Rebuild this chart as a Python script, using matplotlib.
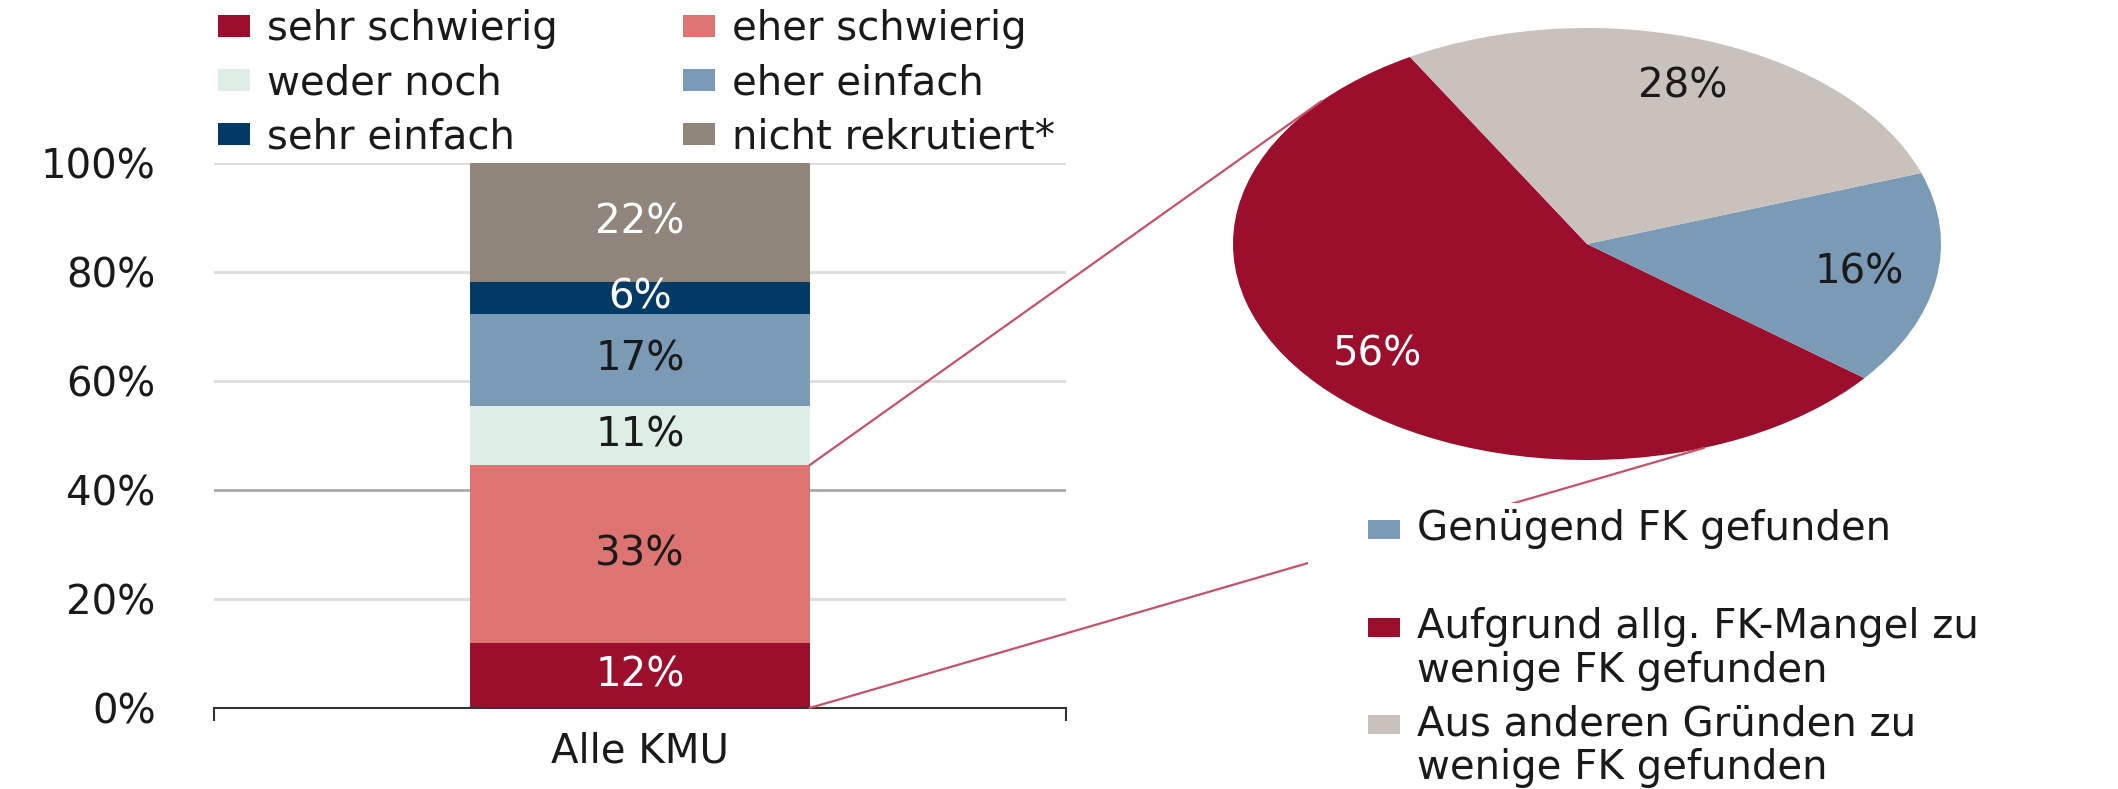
import matplotlib
matplotlib.use('Agg')
import matplotlib.pyplot as plt
from matplotlib.patches import Rectangle, ConnectionPatch
import numpy as np

plt.rcParams['font.family'] = ['DejaVu Sans']

# ---------------- data ----------------
categories = ['Alle KMU']
bar_labels = ['sehr schwierig', 'eher schwierig', 'weder noch',
              'eher einfach', 'sehr einfach', 'nicht rekrutiert*']
bar_values = [12, 33, 11, 17, 6, 22]
bar_colors = ['#9b0e2c', '#de7471', '#ddeee6', '#7a9ab6', '#023a66', '#8f857b']
bar_text_colors = ['white', '#1a1a1a', '#1a1a1a', '#1a1a1a', 'white', 'white']
yticks = [0, 20, 40, 60, 80, 100]
ytick_labels = ['0%', '20%', '40%', '60%', '80%', '100%']

pie_labels = ['Aufgrund allg. FK-Mangel zu\nwenige FK gefunden',
              'Genügend FK gefunden',
              'Aus anderen Gründen zu\nwenige FK gefunden']
pie_values = [56, 16, 28]
pie_colors = ['#9b0e2c', '#7a9ab6', '#c9c2bc']
pie_text_colors = ['white', '#1a1a1a', '#1a1a1a']
pie_legend_order = [1, 0, 2]

# ---------------- layout helpers ----------------
W, H = 2118, 789
fig = plt.figure(figsize=(W / 100, H / 100), dpi=100)
FS = 29
FSPX = FS * 100 / 72
TXT = '#1a1a1a'


def fx(px):
    return px / W


def fy(py):
    return 1 - py / H


# ---------------- stacked bar ----------------
ax = fig.add_axes([fx(214), fy(708), fx(1066) - fx(214), fy(163) - fy(708)])
total = sum(bar_values)
shares = [v / total * 100 for v in bar_values]
bar_w = 0.398
bottom = 0
handles = []
for lab, v, s, c, tc in zip(bar_labels, bar_values, shares, bar_colors, bar_text_colors):
    b = ax.bar(0, s, width=bar_w, bottom=bottom, color=c, label=lab, zorder=3)
    handles.append(b)
    ax.text(0, bottom + s / 2, f'{v}%', ha='center', va='center',
            fontsize=FS, color=tc, zorder=4)
    bottom += s

ax.set_xlim(-0.5, 0.5)
ax.set_ylim(0, 100)
ax.set_yticks(yticks, ytick_labels)
ax.set_xticks([0], categories)
ax.set_xticks([-0.5, 0.5], minor=True)
ax.tick_params(axis='y', length=0, pad=42, labelsize=FS, labelcolor=TXT)
ax.tick_params(axis='x', which='major', length=0, pad=17, labelsize=FS, labelcolor=TXT)
ax.tick_params(axis='x', which='minor', length=9, width=1.5, color='#333333', direction='out')
ax.yaxis.grid(True, color='#dcdcdc', lw=2)
ax.axhline(40, color='#ababab', lw=2, zorder=1)
ax.set_axisbelow(True)
for sp in ['left', 'right', 'top']:
    ax.spines[sp].set_visible(False)
ax.spines['bottom'].set_color('#333333')
ax.spines['bottom'].set_linewidth(1.5)
ax.spines['bottom'].set_zorder(5)

order = [0, 2, 4, 1, 3, 5]
fig.legend([handles[i] for i in order], [bar_labels[i] for i in order],
           ncol=2, loc='upper left', bbox_to_anchor=(fx(218), fy(9)),
           frameon=False, fontsize=FS, handlelength=32 / FSPX, handleheight=19 / FSPX,
           handletextpad=17 / FSPX, labelspacing=0.35, columnspacing=3.1,
           borderpad=0, borderaxespad=0, labelcolor=TXT)

# ---------------- pie (elliptical) ----------------
pax = fig.add_axes([fx(1233), fy(460), fx(1941) - fx(1233), fy(28) - fy(460)])
wedges, texts, autotexts = pax.pie(
    pie_values, colors=pie_colors, startangle=120, counterclock=True,
    autopct=lambda p: f'{round(p)}%', pctdistance=0.78,
    textprops=dict(fontsize=FS))
for t, c in zip(autotexts, pie_text_colors):
    t.set_color(c)
pax.set_aspect('auto')
pax.set_xlim(-1, 1)
pax.set_ylim(-1, 1)
pax.set_axis_off()

# connector lines from bar to pie
line_col = '#c9506a'
cum = np.cumsum(shares)
a_top = np.radians(138.6)
a_bot = np.radians(-70.7)
con1 = ConnectionPatch(xyA=(bar_w / 2, cum[1]), coordsA=ax.transData,
                       xyB=(np.cos(a_top), np.sin(a_top)), coordsB=pax.transData,
                       color=line_col, lw=1.6, zorder=4)
con2 = ConnectionPatch(xyA=(bar_w / 2, 0), coordsA=ax.transData,
                       xyB=(np.cos(a_bot), np.sin(a_bot)), coordsB=pax.transData,
                       color=line_col, lw=1.6, zorder=4)
fig.add_artist(con1)
fig.add_artist(con2)

# white legend box for pie legend (hides part of the connector)
box = Rectangle((fx(1308), 0), 1 - fx(1308), fy(503), transform=fig.transFigure,
                facecolor='white', edgecolor='none', zorder=5)
fig.add_artist(box)

row_baselines = [540, 638, 735]
line_step = 44
for row, idx in zip(row_baselines, pie_legend_order):
    r = Rectangle((fx(1368), fy(row - 1)), fx(1400) - fx(1368), fy(row - 20) - fy(row - 1),
                  transform=fig.transFigure, facecolor=pie_colors[idx],
                  edgecolor='none', zorder=6)
    fig.add_artist(r)
    for k, line in enumerate(pie_labels[idx].split('\n')):
        fig.text(fx(1417), fy(row + k * line_step), line, ha='left', va='baseline',
                 fontsize=FS, color=TXT, zorder=6)

fig.savefig('out.png', dpi=100, facecolor='white')
